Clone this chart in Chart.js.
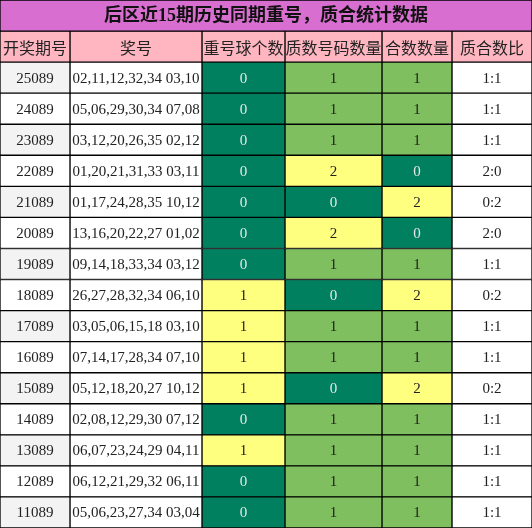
<!DOCTYPE html>
<html>
<head>
<meta charset="utf-8">
<script src="https://cdn.jsdelivr.net/npm/chart.js@4"></script>
<style>body{margin:0;background:#fff}canvas{display:block}</style>
</head>
<body>
<canvas id="c" width="532" height="528"></canvas>
<script>
// table data
const titleText = '后区近15期历史同期重号，质合统计数据';
const headers = ['开奖期号', '奖号', '重号球个数', '质数号码数量', '合数数量', '质合数比'];
const issues = ['25089','24089','23089','22089','21089','20089','19089','18089','17089','16089','15089','14089','13089','12089','11089'];
const numbers = ['02,11,12,32,34 03,10','05,06,29,30,34 07,08','03,12,20,26,35 02,12','01,20,21,31,33 03,11','01,17,24,28,35 10,12','13,16,20,22,27 01,02','09,14,18,33,34 03,12','26,27,28,32,34 06,10','03,05,06,15,18 03,10','07,14,17,28,34 07,10','05,12,18,20,27 10,12','02,08,12,29,30 07,12','06,07,23,24,29 04,11','06,12,21,29,32 06,11','05,06,23,27,34 03,04'];
const repeatCount = [0,0,0,0,0,0,0,1,1,1,1,0,1,0,0];
const primeCount = [1,1,1,2,0,2,1,0,1,1,0,1,1,1,1];
const compositeCount = [1,1,1,0,2,0,1,2,1,1,2,1,1,1,1];
const ratio = ['1:1','1:1','1:1','2:0','0:2','2:0','1:1','0:2','1:1','1:1','0:2','1:1','1:1','1:1','1:1'];
const colEdges = [0, 70, 202, 285, 382, 452, 532];

const DARK = '#00805f', LIGHT = '#7fbf5f', YELLOW = '#ffff7f';
const rowLabels = ['title', 'header'].concat(issues);

function repeatColor(v) { return v === 0 ? DARK : YELLOW; }
function pcColor(v) { return v === 0 ? DARK : (v === 1 ? LIGHT : YELLOW); }

const datasets = [];
// title bar
datasets.push({ data: [{ x: [0, 532], y: 'title' }], backgroundColor: '#d86ed0', text: [titleText], textColor: ['#111'], bold: true });
for (let c = 0; c < 6; c++) {
  const data = [{ x: [colEdges[c], colEdges[c + 1]], y: 'header' }];
  const bg = ['#ffb6c1'];
  const txt = [headers[c]];
  const tc = ['#222'];
  issues.forEach((iss, i) => {
    data.push({ x: [colEdges[c], colEdges[c + 1]], y: iss });
    let b = '#ffffff', t = '', col = '#222';
    if (c === 0) { t = iss; b = i % 2 === 0 ? '#f3f3f3' : '#ffffff'; }
    if (c === 1) t = numbers[i];
    if (c === 2) { t = String(repeatCount[i]); b = repeatColor(repeatCount[i]); }
    if (c === 3) { t = String(primeCount[i]); b = pcColor(primeCount[i]); }
    if (c === 4) { t = String(compositeCount[i]); b = pcColor(compositeCount[i]); }
    if (c === 5) t = ratio[i];
    if (b === DARK) col = '#e8e8e8';
    bg.push(b); txt.push(t); tc.push(col);
  });
  datasets.push({ data: data, backgroundColor: bg, text: txt, textColor: tc });
}
datasets.forEach(d => { d.borderColor = '#000'; d.borderWidth = 1; d.borderSkipped = false; d.barPercentage = 1; d.categoryPercentage = 1; d.grouped = false; });

const cellText = {
  id: 'cellText',
  afterDatasetsDraw(chart) {
    const ctx = chart.ctx;
    ctx.save();
    ctx.textAlign = 'center';
    ctx.textBaseline = 'middle';
    chart.data.datasets.forEach((ds, di) => {
      chart.getDatasetMeta(di).data.forEach((el, j) => {
        const t = ds.text[j];
        if (!t) return;
        const isCjk = /[\u4e00-\u9fff]/.test(t);
        if (ds.bold) ctx.font = 'bold 18px "Liberation Serif", "Noto Sans CJK SC", serif';
        else if (isCjk) ctx.font = '16px "Noto Sans CJK SC", sans-serif';
        else ctx.font = '15px "Liberation Serif", serif';
        ctx.fillStyle = ds.textColor[j];
        const cx = (el.x + el.base) / 2;
        ctx.fillText(t, cx, el.y + 1);
      });
    });
    ctx.restore();
  }
};

new Chart(document.getElementById('c'), {
  type: 'bar',
  data: { labels: rowLabels, datasets: datasets },
  options: {
    indexAxis: 'y',
    responsive: false,
    animation: false,
    layout: { padding: 0 },
    plugins: { legend: { display: false }, tooltip: { enabled: false } },
    scales: {
      x: { type: 'linear', min: 0, max: 532, display: false },
      y: { type: 'category', display: false, offset: true }
    }
  },
  plugins: [cellText]
});
</script>
</body>
</html>
